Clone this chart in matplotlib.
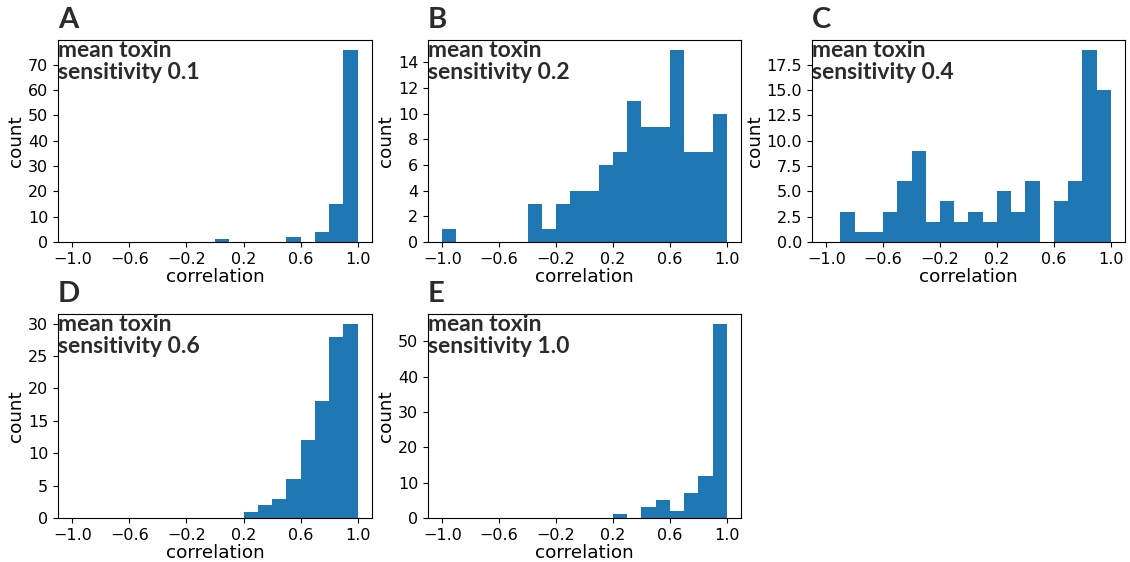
import matplotlib
matplotlib.use("Agg")
import matplotlib.pyplot as plt
import numpy as np

plt.rcParams["font.family"] = ["DejaVu Sans"]

# bin edges shared by all panels: 20 bins of width 0.1 from -1 to 1
edges = np.round(np.linspace(-1.0, 1.0, 21), 2)

# counts per bin
counts_a = [0, 0, 0, 0, 0, 0, 0, 0, 0, 0, 1, 0, 0, 0, 0, 2, 0, 4, 15, 76]
counts_b = [1, 0, 0, 0, 0, 0, 3, 1, 3, 4, 4, 6, 7, 11, 9, 9, 15, 7, 7, 10]
counts_c = [0, 3, 1, 1, 3, 6, 9, 2, 4, 2, 3, 2, 5, 3, 6, 0, 4, 6, 19, 15]
counts_d = [0, 0, 0, 0, 0, 0, 0, 0, 0, 0, 0, 0, 1, 2, 3, 6, 12, 18, 28, 30]
counts_e = [0, 0, 0, 0, 0, 0, 0, 0, 0, 0, 0, 0, 1, 0, 3, 5, 2, 7, 12, 55]

panel_letters = ["A", "B", "C", "D", "E"]
sensitivities = ["0.1", "0.2", "0.4", "0.6", "1.0"]
xticks = [-1.0, -0.6, -0.2, 0.2, 0.6, 1.0]
ytick_steps = [10, 2, 2.5, 5, 10]

W, H = 1130, 562
fig = plt.figure(figsize=(W / 100, H / 100), dpi=100)

# axes boxes in pixels: (left, top, right, bottom)
boxes = [(58, 40, 372, 242), (428, 40, 741, 242), (812, 40, 1125, 242),
         (58, 314, 372, 518), (428, 314, 741, 518)]

all_counts = [counts_a, counts_b, counts_c, counts_d, counts_e]
centers = (edges[:-1] + edges[1:]) / 2

for counts, letter, sens, step, (l, t, r, b) in zip(all_counts, panel_letters, sensitivities,
                                                     ytick_steps, boxes):
    ax = fig.add_axes([l / W, 1 - b / H, (r - l) / W, (b - t) / H])
    ax.hist(centers, bins=edges, weights=counts, color="#1f77b4")
    ax.set_xticks(xticks)
    ax.set_yticks(np.arange(0, max(counts) + 0.01, step))
    ax.set_ylim(0, max(counts) * 1.05)
    ax.tick_params(labelsize=11.5)
    ax.set_xlabel("correlation", fontsize=13.2, labelpad=1)
    ax.set_ylabel("count", fontsize=13.2, labelpad=2)
    ax.text(0.0, 1.0, "mean toxin\nsensitivity " + sens, transform=ax.transAxes,
            ha="left", va="top", fontsize=16.5, fontweight="bold",
            family=["Lato", "DejaVu Sans"], color="#2b2b2b", linespacing=1.08)
    ax.text(0.0, 1.035, letter, transform=ax.transAxes, ha="left", va="bottom",
            fontsize=21, fontweight="bold", family=["Lato", "DejaVu Sans"],
            color="#2b2b2b")

fig.savefig("out.png", dpi=100)
